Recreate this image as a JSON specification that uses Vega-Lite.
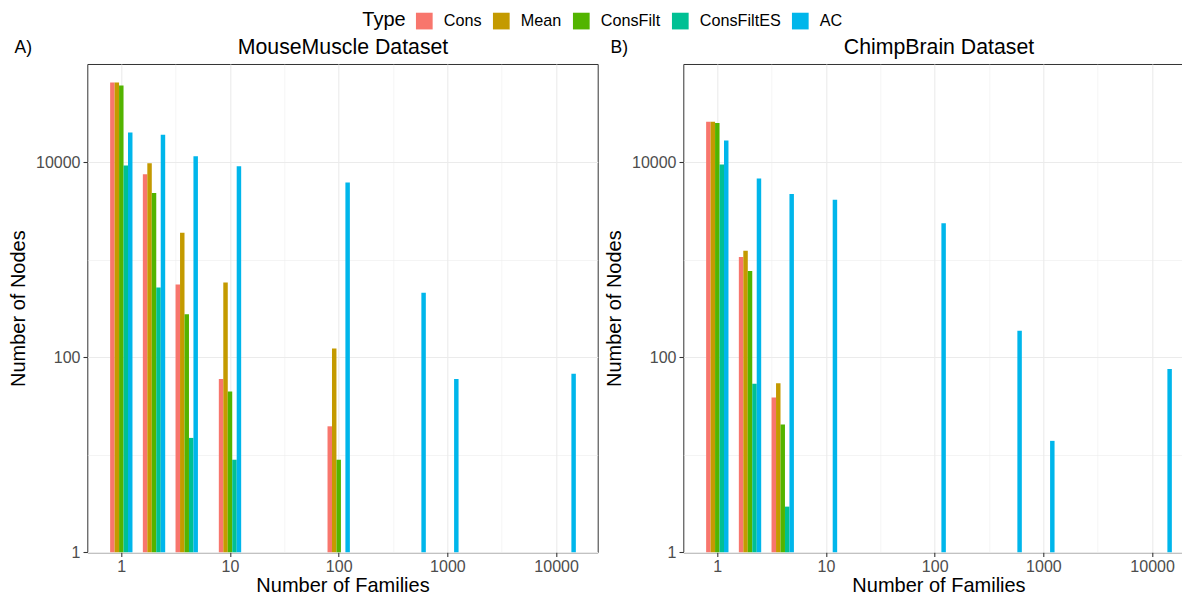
{
  "$schema": "https://vega.github.io/schema/vega-lite/v6.json",
  "padding": {"left": 7.3, "top": 12, "right": 0, "bottom": 0},
  "background": "white",
  "config": {
    "font": "Liberation Sans",
    "view": {"stroke": "#333333", "strokeWidth": 1},
    "axis": {
      "labelFont": "Liberation Sans",
      "labelFontSize": 16,
      "labelColor": "#4D4D4D",
      "titleFont": "Liberation Sans",
      "titleFontSize": 20,
      "titleFontWeight": "normal",
      "titleColor": "black",
      "tickColor": "#333333",
      "tickSize": 4.3,
      "tickWidth": 1.07,
      "domain": false,
      "gridColor": "#EBEBEB",
      "labelPadding": 2,
      "labelFlush": false,
      "labelOverlap": false
    },
    "title": {"font": "Liberation Sans", "fontSize": 17.5, "fontWeight": "normal", "color": "black", "offset": 0, "anchor": "start", "frame": "bounds"},
    "legend": {
      "orient": "none",
      "legendX": 275,
      "legendY": -51.5,
      "direction": "horizontal",
      "titleOrient": "left",
      "titleFontSize": 20,
      "titleFontWeight": "normal",
      "titleColor": "black",
      "titlePadding": 9.5,
      "titleAnchor": "middle",
      "titleBaseline": "middle",
      "labelFontSize": 16.2,
      "labelColor": "black",
      "labelOffset": 11,
      "columnPadding": 11,
      "symbolType": "square",
      "symbolSize": 279,
      "symbolStrokeWidth": 0,
      "symbolOpacity": 1,
      "padding": 0
    },
    "concat": {"spacing": 5}
  },
  "datasets": {
    "mouse": [
      {"Families": 1, "Type": "Cons", "Nodes": 66000},
      {"Families": 1, "Type": "Mean", "Nodes": 66000},
      {"Families": 1, "Type": "ConsFilt", "Nodes": 61200},
      {"Families": 1, "Type": "ConsFiltES", "Nodes": 9250},
      {"Families": 1, "Type": "AC", "Nodes": 20200},
      {"Families": 2, "Type": "Cons", "Nodes": 7530},
      {"Families": 2, "Type": "Mean", "Nodes": 9770},
      {"Families": 2, "Type": "ConsFilt", "Nodes": 4850},
      {"Families": 2, "Type": "ConsFiltES", "Nodes": 519},
      {"Families": 2, "Type": "AC", "Nodes": 19200},
      {"Families": 4, "Type": "Cons", "Nodes": 557},
      {"Families": 4, "Type": "Mean", "Nodes": 1890},
      {"Families": 4, "Type": "ConsFilt", "Nodes": 276},
      {"Families": 4, "Type": "ConsFiltES", "Nodes": 14.9},
      {"Families": 4, "Type": "AC", "Nodes": 11530},
      {"Families": 10, "Type": "Cons", "Nodes": 60},
      {"Families": 10, "Type": "Mean", "Nodes": 584},
      {"Families": 10, "Type": "ConsFilt", "Nodes": 44.5},
      {"Families": 10, "Type": "ConsFiltES", "Nodes": 8.9},
      {"Families": 10, "Type": "AC", "Nodes": 9100},
      {"Families": 100, "Type": "Cons", "Nodes": 19.6},
      {"Families": 100, "Type": "Mean", "Nodes": 123},
      {"Families": 100, "Type": "ConsFilt", "Nodes": 8.9},
      {"Families": 100, "Type": "AC", "Nodes": 6190},
      {"Families": 500, "Type": "AC", "Nodes": 460},
      {"Families": 1000, "Type": "AC", "Nodes": 60},
      {"Families": 12000, "Type": "AC", "Nodes": 68}
    ],
    "chimp": [
      {"Families": 1, "Type": "Cons", "Nodes": 26100},
      {"Families": 1, "Type": "Mean", "Nodes": 26100},
      {"Families": 1, "Type": "ConsFilt", "Nodes": 25350},
      {"Families": 1, "Type": "ConsFiltES", "Nodes": 9470},
      {"Families": 1, "Type": "AC", "Nodes": 16700},
      {"Families": 2, "Type": "Cons", "Nodes": 1070},
      {"Families": 2, "Type": "Mean", "Nodes": 1240},
      {"Families": 2, "Type": "ConsFilt", "Nodes": 769},
      {"Families": 2, "Type": "ConsFiltES", "Nodes": 53.4},
      {"Families": 2, "Type": "AC", "Nodes": 6810},
      {"Families": 4, "Type": "Cons", "Nodes": 38.6},
      {"Families": 4, "Type": "Mean", "Nodes": 54.1},
      {"Families": 4, "Type": "ConsFilt", "Nodes": 20.5},
      {"Families": 4, "Type": "ConsFiltES", "Nodes": 2.94},
      {"Families": 4, "Type": "AC", "Nodes": 4740},
      {"Families": 10, "Type": "AC", "Nodes": 4140},
      {"Families": 100, "Type": "AC", "Nodes": 2370},
      {"Families": 500, "Type": "AC", "Nodes": 187},
      {"Families": 1000, "Type": "AC", "Nodes": 13.9},
      {"Families": 12000, "Type": "AC", "Nodes": 76}
    ]
  },
  "hconcat": [
    {
      "width": 510.4,
      "height": 488.3,
      "title": {"text": "A)", "dx": 6, "dy": 24},
      "data": {"name": "mouse"},
      "layer": [
        {
          "mark": {"type": "bar", "width": 4.47, "xOffset": {"expr": "(indexof(['Cons','Mean','ConsFilt','ConsFiltES','AC'], datum.Type) - 2) * 4.47"}},
          "encoding": {
            "x": {
              "field": "Families", "type": "quantitative", "title": "Number of Families",
              "scale": {"type": "log", "domain": [0.4866, 24150], "nice": false, "padding": 0},
              "axis": {
                "values": [1, 3.1623, 10, 31.623, 100, 316.23, 1000, 3162.3, 10000],
                "labelExpr": "indexof([1,10,100,1000,10000], datum.value) >= 0 ? format(datum.value, 'd') : ''",
                "tickOpacity": {"condition": {"test": "indexof([1,10,100,1000,10000], datum.value) < 0", "value": 0}, "value": 1},
                "gridWidth": {"condition": {"test": "indexof([1,10,100,1000,10000], datum.value) < 0", "value": 0.55}, "value": 1.1},
                "titlePadding": 1
              }
            },
            "y": {
              "field": "Nodes", "type": "quantitative", "title": "Number of Nodes", "stack": null,
              "scale": {"type": "log", "domain": [1, 101900], "nice": false},
              "axis": {
                "values": [1, 10, 100, 1000, 10000],
                "labelExpr": "indexof([1,100,10000], datum.value) >= 0 ? format(datum.value, 'd') : ''",
                "tickOpacity": {"condition": {"test": "indexof([1,100,10000], datum.value) < 0", "value": 0}, "value": 1},
                "gridWidth": {"condition": {"test": "indexof([1,100,10000], datum.value) < 0", "value": 0.55}, "value": 1.1},
                "titlePadding": 7,
                "labelPadding": 3
              }
            },
            "color": {
              "field": "Type", "type": "nominal", "title": "Type",
              "scale": {"domain": ["Cons", "Mean", "ConsFilt", "ConsFiltES", "AC"], "range": ["#F8766D", "#C49A00", "#53B400", "#00C094", "#00B6EB"]}
            }
          }
        },
        {
          "mark": {"type": "point", "opacity": 0},
          "encoding": {
            "x": {
              "field": "Families", "type": "quantitative",
              "scale": {"type": "log", "domain": [0.4866, 24150], "nice": false, "padding": 0},
              "axis": {"orient": "top", "title": "MouseMuscle Dataset", "labels": false, "ticks": false, "grid": false, "domain": false, "titleFontSize": 21.3, "titleBaseline": "alphabetic", "titlePadding": 10}
            }
          }
        }
      ],
      "resolve": {"axis": {"x": "independent"}}
    },
    {
      "width": 510.4,
      "height": 488.3,
      "title": {"text": "B)", "dx": 6, "dy": 24},
      "data": {"name": "chimp"},
      "layer": [
        {
          "mark": {"type": "bar", "width": 4.47, "xOffset": {"expr": "(indexof(['Cons','Mean','ConsFilt','ConsFiltES','AC'], datum.Type) - 2) * 4.47"}},
          "encoding": {
            "x": {
              "field": "Families", "type": "quantitative", "title": "Number of Families",
              "scale": {"type": "log", "domain": [0.4866, 24150], "nice": false, "padding": 0},
              "axis": {
                "values": [1, 3.1623, 10, 31.623, 100, 316.23, 1000, 3162.3, 10000],
                "labelExpr": "indexof([1,10,100,1000,10000], datum.value) >= 0 ? format(datum.value, 'd') : ''",
                "tickOpacity": {"condition": {"test": "indexof([1,10,100,1000,10000], datum.value) < 0", "value": 0}, "value": 1},
                "gridWidth": {"condition": {"test": "indexof([1,10,100,1000,10000], datum.value) < 0", "value": 0.55}, "value": 1.1},
                "titlePadding": 1
              }
            },
            "y": {
              "field": "Nodes", "type": "quantitative", "title": "Number of Nodes", "stack": null,
              "scale": {"type": "log", "domain": [1, 101900], "nice": false},
              "axis": {
                "values": [1, 10, 100, 1000, 10000],
                "labelExpr": "indexof([1,100,10000], datum.value) >= 0 ? format(datum.value, 'd') : ''",
                "tickOpacity": {"condition": {"test": "indexof([1,100,10000], datum.value) < 0", "value": 0}, "value": 1},
                "gridWidth": {"condition": {"test": "indexof([1,100,10000], datum.value) < 0", "value": 0.55}, "value": 1.1},
                "titlePadding": 7,
                "labelPadding": 3
              }
            },
            "color": {
              "field": "Type", "type": "nominal", "title": "Type",
              "scale": {"domain": ["Cons", "Mean", "ConsFilt", "ConsFiltES", "AC"], "range": ["#F8766D", "#C49A00", "#53B400", "#00C094", "#00B6EB"]}
            }
          }
        },
        {
          "mark": {"type": "point", "opacity": 0},
          "encoding": {
            "x": {
              "field": "Families", "type": "quantitative",
              "scale": {"type": "log", "domain": [0.4866, 24150], "nice": false, "padding": 0},
              "axis": {"orient": "top", "title": "ChimpBrain Dataset", "labels": false, "ticks": false, "grid": false, "domain": false, "titleFontSize": 21.3, "titleBaseline": "alphabetic", "titlePadding": 10}
            }
          }
        }
      ],
      "resolve": {"axis": {"x": "independent"}}
    }
  ],
  "resolve": {"scale": {"color": "shared"}}
}
